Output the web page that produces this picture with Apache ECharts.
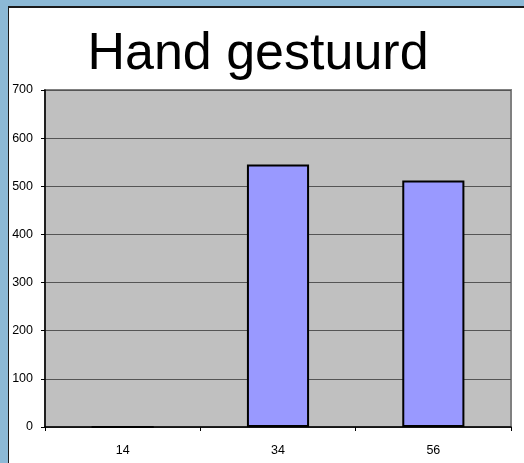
<!DOCTYPE html>
<html>
<head>
<meta charset="utf-8">
<script src="https://cdn.jsdelivr.net/npm/echarts@6/dist/echarts.min.js"></script>
<style>
html,body{margin:0;padding:0;background:#8cb9d6;}
#c{width:524px;height:463px;}
</style>
</head>
<body>
<div id="c"></div>
<script>
const titleText = 'Hand gestuurd';
const categories = ['14', '34', '56'];
const values = [0, 545, 512];
const yTicks = { min: 0, max: 700, interval: 100 };

const chart = echarts.init(document.getElementById('c'), null, { renderer: 'canvas' });
chart.setOption({
  backgroundColor: '#8cb9d6',
  animation: false,
  graphic: [
    { type: 'rect', z: -10, shape: { x: 8, y: 6, width: 516, height: 457 }, style: { fill: '#1a1a1a' } },
    { type: 'rect', z: -9, shape: { x: 9, y: 8, width: 515, height: 455 }, style: { fill: '#ffffff' } },
    { type: 'rect', z: -8, shape: { x: 45, y: 90, width: 466, height: 337 }, style: { fill: '#c0c0c0', stroke: '#808080', lineWidth: 2 } }
  ],
  title: {
    text: titleText,
    left: 253,
    textAlign: 'center',
    top: 24,
    textStyle: { fontFamily: 'Liberation Sans, Arial, sans-serif', fontSize: 52, fontWeight: 'normal', color: '#000' }
  },
  grid: { left: 45, right: 13, top: 90, bottom: 36, containLabel: false },
  xAxis: {
    type: 'category',
    data: categories,
    axisLine: { show: true, lineStyle: { color: '#000', width: 1.5 } },
    axisTick: { show: true, length: 4, alignWithLabel: false, lineStyle: { color: '#000' } },
    axisLabel: { margin: 17, fontFamily: 'Liberation Sans, Arial, sans-serif', fontSize: 12.5, color: '#000' },
    splitLine: { show: false }
  },
  yAxis: {
    type: 'value',
    min: yTicks.min, max: yTicks.max, interval: yTicks.interval,
    axisLine: { show: true, lineStyle: { color: '#000', width: 1.5 } },
    axisTick: { show: true, length: 4, lineStyle: { color: '#000' } },
    axisLabel: { margin: 12, fontFamily: 'Liberation Sans, Arial, sans-serif', fontSize: 12.5, color: '#000' },
    splitLine: { show: true, lineStyle: { color: '#555', width: 1 } }
  },
  series: [{
    type: 'bar',
    data: values,
    barWidth: '40%',
    itemStyle: { color: '#9999ff', borderColor: '#000', borderWidth: 2 }
  }]
});
</script>
</body>
</html>
